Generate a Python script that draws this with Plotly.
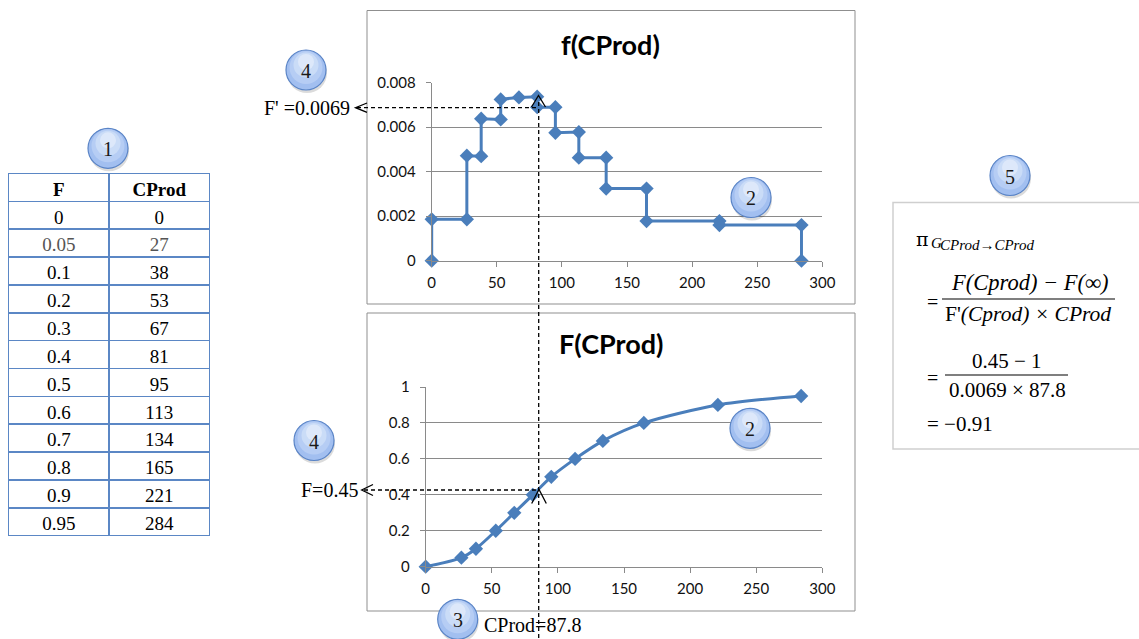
import plotly.graph_objects as go

# ---------------- data ----------------
F_VALUES = [0, 0.05, 0.1, 0.2, 0.3, 0.4, 0.5, 0.6, 0.7, 0.8, 0.9, 0.95]
CPROD = [0, 27, 38, 53, 67, 81, 95, 113, 134, 165, 221, 284]
TABLE_HEADER = ["F", "CProd"]

# step density f(CProd)
PDF_X = [0, 0, 27, 27, 38, 38, 53, 53, 67, 81, 81, 95, 95, 113, 113, 134, 134, 165, 165, 221, 221, 284, 284]
PDF_Y = [0, 0.00186, 0.00186, 0.00472, 0.0047, 0.00638, 0.00635, 0.00725, 0.00734, 0.00737, 0.0069,
         0.0069, 0.00575, 0.00578, 0.00463, 0.00463, 0.00324, 0.00324, 0.00178, 0.00178, 0.0016, 0.0016, 0]

PDF_YTICKS = [0, 0.002, 0.004, 0.006, 0.008]
PDF_YTICKTEXT = ["0", "0.002", "0.004", "0.006", "0.008"]
CDF_YTICKS = [0, 0.2, 0.4, 0.6, 0.8, 1]
CDF_YTICKTEXT = ["0", "0.2", "0.4", "0.6", "0.8", "1"]
X_TICKS = [0, 50, 100, 150, 200, 250, 300]

CALLOUTS = ["1", "4", "2", "4", "2", "3", "5"]

W, H = 1139, 639


def px(x):
    return x / W


def py(y):
    return 1 - y / H


BLUE = "#4a7ebb"
GRID = "#8a8a8a"
SERIF = "Liberation Serif"
SANS = "Lato"

fig = go.Figure()

# ---------------- table ----------------
f_txt = [f"{v:g}" for v in F_VALUES]
c_txt = [str(v) for v in CPROD]
row_colors = ["#555555" if v == 0.05 else "#000000" for v in F_VALUES]
fig.add_trace(go.Table(
    domain=dict(x=[px(8.5), px(209.5)], y=[py(540), py(173.5)]),
    columnwidth=[1, 1],
    header=dict(values=TABLE_HEADER,
                line=dict(color="#5b87c5", width=1.6), fill=dict(color="white"),
                align="center", height=27.85,
                font=dict(family=SERIF, size=19, color="black", weight="bold")),
    cells=dict(values=[f_txt, c_txt],
               line=dict(color="#5b87c5", width=1.6), fill=dict(color="white"),
               align="center", height=27.85,
               font=dict(family=SERIF, size=19, color=[row_colors, row_colors])),
))

# ---------------- f(CProd) step chart ----------------
fig.add_trace(go.Scatter(
    x=PDF_X, y=PDF_Y, mode="lines+markers", xaxis="x", yaxis="y",
    line=dict(color=BLUE, width=3),
    marker=dict(symbol="diamond", size=11, color=BLUE),
    cliponaxis=False, hoverinfo="skip",
))

# ---------------- F(CProd) curve ----------------
fig.add_trace(go.Scatter(
    x=CPROD, y=F_VALUES, mode="lines+markers", xaxis="x2", yaxis="y2",
    line=dict(color=BLUE, width=3, shape="spline", smoothing=0.8),
    marker=dict(symbol="diamond", size=11, color=BLUE),
    cliponaxis=False, hoverinfo="skip",
))

axis_common = dict(
    showline=True, linecolor=GRID, linewidth=1,
    ticks="outside", ticklen=5, tickcolor=GRID, tickwidth=1,
    tickfont=dict(family=SANS, size=15, color="#111111"),
    zeroline=False, fixedrange=True, automargin=False,
)

fig.update_layout(
    width=W, height=H, margin=dict(l=0, r=0, t=0, b=0, autoexpand=False),
    paper_bgcolor="white", plot_bgcolor="white", showlegend=False,
    xaxis=dict(domain=[px(431.7), px(822.3)], range=[0, 300], tickvals=X_TICKS,
               showgrid=False, anchor="y", ticklabelstandoff=3, **axis_common),
    yaxis=dict(domain=[py(260.7), py(82.7)], range=[0, 0.008], tickvals=PDF_YTICKS,
               ticktext=PDF_YTICKTEXT, showgrid=True, gridcolor=GRID, gridwidth=1,
               anchor="x", ticklabelstandoff=7, **axis_common),
    xaxis2=dict(domain=[px(425.7), px(822.3)], range=[0, 300], tickvals=X_TICKS,
                showgrid=False, anchor="y2", ticklabelstandoff=3, **axis_common),
    yaxis2=dict(domain=[py(566.7), py(387)], range=[0, 1], tickvals=CDF_YTICKS,
                ticktext=CDF_YTICKTEXT, showgrid=True, gridcolor=GRID, gridwidth=1,
                anchor="x2", ticklabelstandoff=7, **axis_common),
)

shapes = []
annotations = []


def text(t, x, y, size=20, anchor="center", family=SERIF, color="black"):
    annotations.append(dict(text=t, x=px(x), y=py(y), xref="paper", yref="paper",
                            xanchor=anchor, yanchor="middle", showarrow=False,
                            font=dict(family=family, size=size, color=color)))


# chart frames
for (x0, y0, x1, y1) in [(367, 10.5, 855, 304), (367, 313, 855, 611)]:
    shapes.append(dict(type="rect", xref="paper", yref="paper", x0=px(x0), x1=px(x1),
                       y0=py(y1), y1=py(y0), line=dict(color="#8f8f8f", width=1), layer="below"))

# formula frame
shapes.append(dict(type="rect", xref="paper", yref="paper", x0=px(893), x1=px(1150),
                   y0=py(449), y1=py(202.5), line=dict(color="#cfcfcf", width=1.5)))

# titles
text("<b>f(CProd)</b>", 610, 44, size=27, family=SANS)
text("<b>F(CProd)</b>", 611, 343, size=27, family=SANS)

# dashed guide lines
dash = dict(color="black", width=1.3, dash="4px,3px")
shapes.append(dict(type="line", xref="paper", yref="paper", x0=px(538.7), x1=px(538.7),
                   y0=py(645), y1=py(99), line=dash))
shapes.append(dict(type="line", xref="paper", yref="paper", x0=px(357), x1=px(538.7),
                   y0=py(107.7), y1=py(107.7), line=dash))
shapes.append(dict(type="line", xref="paper", yref="paper", x0=px(364), x1=px(538.7),
                   y0=py(490), y1=py(490), line=dash))


def path(points):
    return "M " + " L ".join(f"{px(a):.5f},{py(b):.5f}" for a, b in points)


solid = dict(color="black", width=1.3)
# left arrow heads
shapes.append(dict(type="path", xref="paper", yref="paper",
                   path=path([(367, 103), (355.5, 107.7), (367, 112.4)]), line=solid))
shapes.append(dict(type="path", xref="paper", yref="paper",
                   path=path([(373, 484.5), (361.7, 490), (373, 495.5)]), line=solid))
# up carets
shapes.append(dict(type="path", xref="paper", yref="paper",
                   path=path([(531.5, 107), (538.5, 95.5), (545.5, 107)]), line=solid))
shapes.append(dict(type="path", xref="paper", yref="paper",
                   path=path([(531.7, 503.5), (539, 489.5), (546.3, 503.5)]), line=solid))

# annotation texts
text("F' =0.0069", 352, 108, size=20, anchor="right")
text("F=0.45", 360, 490, size=20, anchor="right")
text("CProd=87.8", 482, 625, size=20, anchor="left")

# callout bubbles
centers = [(108, 148.3), (306, 70), (751, 197.5), (314, 440.5), (750, 428.3), (457.7, 619.3), (1010, 175.5)]
for label, (cx, cy) in zip(CALLOUTS, centers):
    r = 20
    shapes.append(dict(type="circle", xref="paper", yref="paper",
                       x0=px(cx - r + 1), x1=px(cx + r + 1), y0=py(cy + r + 3), y1=py(cy - r + 3),
                       fillcolor="rgba(0,0,0,0.14)", line=dict(width=0)))
    shapes.append(dict(type="circle", xref="paper", yref="paper",
                       x0=px(cx - r), x1=px(cx + r), y0=py(cy + r), y1=py(cy - r),
                       fillcolor="#a2bff0", line=dict(color="#5a84c6", width=1.2)))
    for rr, dy, col in [(16.5, -2.5, "#b6cdf4"), (12.5, -5, "#cadcf7"), (8, -8, "#dde8fa")]:
        shapes.append(dict(type="circle", xref="paper", yref="paper",
                           x0=px(cx - rr), x1=px(cx + rr), y0=py(cy + dy + rr), y1=py(cy + dy - rr),
                           fillcolor=col, line=dict(width=0)))
    text(label, cx, cy + 1, size=20, color="#1a1a1a")

# formula
text("π", 914, 239, size=19, anchor="left", family="DejaVu Serif")
text("<i>G</i>", 928.5, 243, size=15, anchor="left")
text("<i>CProd→CProd</i>", 938, 245, size=15, anchor="left")
text("=", 925, 302, size=20, anchor="left")
text("<i>F(Cprod) − F(∞)</i>", 1030, 283, size=22.5)
shapes.append(dict(type="line", xref="paper", yref="paper", x0=px(942), x1=px(1115),
                   y0=py(299), y1=py(299), line=dict(color="black", width=1.2)))
text("F'<i>(Cprod) × CProd</i>", 1028, 314, size=21.5)
text("=", 925, 378, size=20, anchor="left")
text("0.45 − 1", 1007, 361, size=21)
shapes.append(dict(type="line", xref="paper", yref="paper", x0=px(945), x1=px(1068),
                   y0=py(375), y1=py(375), line=dict(color="black", width=1.2)))
text("0.0069 × 87.8", 1007, 390, size=21)
text("= −0.91", 925, 424, size=21, anchor="left")

fig.update_layout(shapes=shapes, annotations=annotations)
fig.write_html("out.html")
